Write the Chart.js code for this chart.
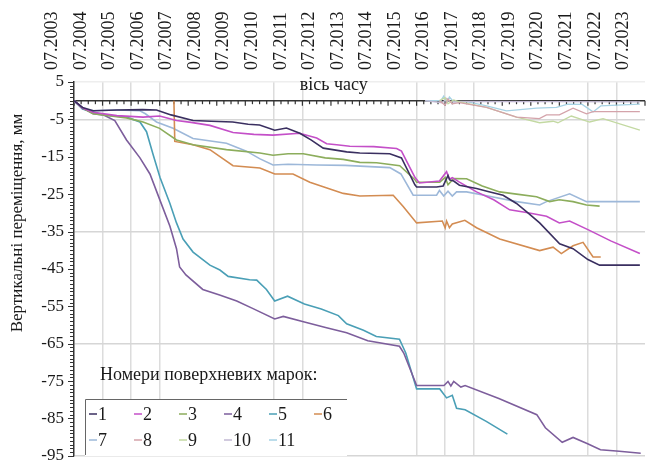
<!DOCTYPE html>
<html>
<head>
<meta charset="utf-8">
<script src="https://cdn.jsdelivr.net/npm/chart.js@4.4.0/dist/chart.umd.min.js"></script>
<style>
  html, body { margin: 0; padding: 0; background: #fff; }
  #wrap { width: 663px; height: 476px; }
</style>
</head>
<body>
<div id="wrap"><canvas id="chart" width="663" height="476"></canvas></div>
<script>
// time in decimal years (07.YYYY = YYYY.5), values in mm
const labels = ['1', '2', '3', '4', '5', '6', '7', '8', '9', '10', '11'];
const colors = ['#3a2f60', '#c44fc8', '#8cad5c', '#7d5e9c', '#4a9fb6', '#d38c52',
                '#9db8d9', '#d4a3aa', '#c3d9a2', '#c2b9d3', '#a6d2e4'];

const t1 = [2003.5, 2003.8, 2004.17, 2005.0, 2005.9, 2006.39, 2006.9, 2007.67, 2008.3, 2009.06, 2009.6, 2010.0, 2010.53, 2010.94, 2011.41, 2011.8, 2012.23, 2013.05, 2013.51, 2014.56, 2014.97, 2015.44, 2015.5, 2016.2, 2016.43, 2016.6, 2016.66, 2016.8, 2017.0, 2017.6, 2018.0, 2018.53, 2019.0, 2019.4, 2019.81, 2020.51, 2020.98, 2021.5, 2021.91, 2023.32];
const v1 = [0, -1.8, -2.7, -2.5, -2.4, -2.5, -3.8, -5.3, -5.5, -5.7, -6.3, -6.5, -7.9, -7.3, -8.7, -10.5, -12.7, -13.7, -14.0, -14.2, -15.3, -22.5, -23.1, -23.1, -22.8, -20.0, -21.2, -21.5, -22.6, -23.5, -24.3, -25.3, -27.5, -30.0, -32.7, -38.3, -39.6, -42.5, -44, -44];

const t2 = [2003.5, 2003.8, 2004.17, 2005.0, 2005.92, 2006.5, 2007.09, 2007.6, 2008.26, 2009.07, 2009.8, 2010.47, 2011.4, 2012.0, 2012.35, 2012.7, 2013.16, 2014.0, 2014.8, 2014.97, 2015.44, 2015.6, 2016.3, 2016.55, 2016.65, 2016.75, 2017.0, 2017.6, 2018.2, 2018.76, 2019.4, 2020.05, 2020.5, 2020.86, 2021.5, 2022.3, 2023.32];
const v2 = [0, -2.0, -3.1, -4.0, -4.4, -4.1, -5.3, -5.8, -6.6, -8.5, -9.0, -9.2, -8.7, -10.0, -11.5, -11.8, -12.2, -12.3, -12.8, -13.5, -20.5, -22.0, -21.5, -19.0, -21.0, -20.6, -21.8, -24.4, -26.5, -29.2, -30.0, -30.9, -32.7, -32.2, -34.5, -37.5, -40.9];

const t3 = [2003.5, 2003.8, 2004.17, 2005.34, 2005.92, 2006.5, 2007.09, 2007.67, 2008.84, 2010.01, 2010.47, 2011.0, 2011.53, 2012.3, 2012.93, 2013.51, 2014.1, 2014.91, 2015.45, 2015.5, 2016.31, 2016.5, 2016.6, 2016.8, 2017.25, 2017.8, 2018.41, 2019.0, 2019.7, 2020.16, 2020.5, 2020.98, 2021.45, 2021.91];
const v3 = [0, -2.0, -3.5, -4.6, -5.7, -7.4, -10.5, -11.8, -13.1, -14.0, -14.6, -14.2, -14.2, -15.3, -15.7, -16.5, -16.6, -17.4, -21.2, -21.8, -21.8, -20.5, -22.5, -20.8, -20.9, -22.8, -24.4, -25.0, -25.7, -27.0, -26.5, -27.0, -27.9, -28.2];

const t4 = [2003.5, 2003.8, 2004.17, 2004.52, 2004.93, 2005.34, 2005.81, 2006.16, 2006.51, 2006.86, 2007.09, 2007.2, 2007.42, 2008.01, 2008.6, 2009.2, 2009.79, 2010.53, 2010.83, 2011.57, 2012.31, 2013.05, 2013.79, 2014.9, 2015.05, 2015.5, 2016.46, 2016.6, 2016.7, 2016.8, 2017.05, 2017.2, 2018.38, 2019.71, 2020.01, 2020.6, 2020.98, 2021.49, 2021.94, 2022.6, 2023.35];
const v4 = [0, -2.0, -3.5, -3.8, -5.3, -10.5, -15.3, -19.6, -26.6, -33.6, -39.6, -44.5, -46.6, -50.5, -52.0, -53.6, -55.7, -58.4, -57.7, -59.2, -60.7, -62.1, -64.2, -65.7, -67.5, -76.2, -76.2, -75.1, -76.3, -75.1, -76.6, -76.2, -79.7, -84.0, -87.5, -91.4, -90.1, -91.8, -93.4, -93.8, -94.3];

const t5 = [2003.5, 2003.8, 2004.52, 2005.34, 2005.81, 2006.04, 2006.27, 2006.51, 2006.86, 2007.09, 2007.32, 2007.67, 2008.26, 2008.61, 2008.9, 2009.65, 2009.9, 2010.24, 2010.53, 2010.98, 2011.57, 2012.16, 2012.76, 2013.05, 2013.64, 2014.09, 2014.9, 2015.12, 2015.5, 2016.31, 2016.55, 2016.75, 2016.9, 2017.2, 2017.94, 2018.68];
const v5 = [0, -2.2, -3.8, -4.4, -5.7, -8.3, -14.4, -20.5, -27.5, -32.7, -37.0, -40.5, -44.0, -45.3, -47.0, -47.9, -48.0, -50.5, -53.6, -52.3, -54.4, -55.7, -57.5, -59.7, -61.4, -63.1, -63.8, -67.5, -77.1, -77.1, -79.5, -78.8, -82.3, -82.7, -85.8, -89.2];

const t6 = [2007.0, 2007.03, 2007.67, 2008.26, 2009.07, 2010.01, 2010.53, 2011.17, 2011.76, 2012.93, 2013.51, 2014.68, 2015.03, 2015.5, 2016.4, 2016.5, 2016.55, 2016.65, 2016.75, 2017.19, 2017.6, 2018.41, 2019.81, 2020.28, 2020.57, 2020.98, 2021.33, 2021.68, 2021.95];
const v6 = [0, -10.9, -11.8, -13.1, -17.4, -18.0, -19.6, -19.6, -21.8, -24.8, -25.5, -25.3, -28.3, -32.7, -32.2, -34.0, -32.2, -34.0, -33.0, -32.0, -34.0, -37.0, -40.1, -39.2, -40.9, -38.8, -37.9, -41.8, -41.8];

const t7 = [2003.5, 2003.8, 2004.2, 2005.0, 2005.81, 2006.0, 2006.39, 2006.97, 2007.67, 2008.84, 2009.54, 2010.0, 2010.47, 2011.0, 2012.0, 2013.0, 2014.56, 2014.95, 2015.38, 2016.2, 2016.3, 2016.45, 2016.6, 2016.75, 2016.9, 2017.25, 2018.0, 2019.0, 2019.81, 2020.05, 2020.86, 2021.45, 2023.32];
const v7 = [0, -2.2, -2.7, -2.5, -2.7, -3.5, -5.7, -7.4, -10.1, -11.4, -13.5, -15.5, -17.2, -17.0, -17.2, -17.3, -17.9, -19.6, -25.3, -25.3, -24.0, -25.5, -24.2, -25.5, -24.4, -24.4, -25.5, -27.0, -27.9, -27.0, -24.9, -27.0, -27.0];

const t8 = [2016.3, 2016.5, 2016.6, 2016.75, 2017.0, 2017.95, 2019.0, 2019.8, 2020.05, 2020.5, 2020.98, 2021.45, 2021.68, 2023.32];
const v8 = [0, -1.2, 0.5, -0.8, -0.5, -1.8, -4.4, -4.8, -3.8, -3.8, -2.0, -3.5, -2.9, -2.9];

const t9 = [2016.3, 2016.5, 2016.6, 2016.8, 2017.0, 2017.95, 2019.0, 2019.81, 2020.28, 2020.45, 2020.92, 2021.56, 2022.03, 2023.32];
const v9 = [0, 0.8, -0.8, 0.2, -0.3, -1.8, -4.4, -5.9, -5.5, -5.9, -4.1, -5.7, -4.8, -7.9];

const t10 = [2015.8, 2016.4, 2016.55, 2016.7, 2017.0, 2023.32];
const v10 = [0, -0.6, 0.6, -0.4, -0.2, -0.3];

const t11 = [2015.8, 2016.35, 2016.45, 2016.55, 2016.65, 2016.8, 2017.3, 2017.95, 2018.65, 2019.7, 2020.4, 2020.8, 2021.3, 2021.68, 2021.95, 2023.32];
const v11 = [0, 0, 1.2, -0.5, 1.0, -0.3, -0.3, -1.4, -2.7, -2.0, -1.8, -0.9, -1.0, -3.0, -1.4, -0.9];

const times = [t1, t2, t3, t4, t5, t6, t7, t8, t9, t10, t11];
const values = [v1, v2, v3, v4, v5, v6, v7, v8, v9, v10, v11];

const gridYears = [2004.5, 2005.5, 2006.5, 2010.5, 2011.5, 2015.5, 2016.5, 2017.5, 2021.5, 2022.5];
const gridValues = [-5, -35, -65, -95];

const serif = '"Liberation Serif", "DejaVu Serif", serif';

const datasets = labels.map((label, i) => ({
  label: label,
  data: times[i].map((t, j) => ({ x: t, y: values[i][j] })),
  borderColor: colors[i],
  backgroundColor: colors[i],
  borderWidth: i < 7 ? 1.6 : 1.3,
  pointRadius: 0,
  fill: false,
  tension: 0,
}));

const decorations = {
  id: 'decorations',
  beforeDatasetsDraw(chart) {
    const { ctx, chartArea, scales } = chart;
    const x = scales.x, y = scales.y;
    ctx.save();
    ctx.strokeStyle = '#333';
    // y axis ruler ticks
    ctx.lineWidth = 1;
    for (let v = -95; v <= 5; v++) {
      const py = Math.round(y.getPixelForValue(v)) + 0.5;
      const len = (v - 5) % 10 === 0 ? 6 : 4;
      ctx.beginPath();
      ctx.moveTo(chartArea.left - len, py);
      ctx.lineTo(chartArea.left, py);
      ctx.stroke();
    }
    // zero line with quarterly ticks
    const y0 = y.getPixelForValue(0);
    ctx.lineWidth = 1.5;
    ctx.beginPath();
    ctx.moveTo(chartArea.left, y0);
    ctx.lineTo(chartArea.right, y0);
    ctx.stroke();
    ctx.lineWidth = 1.2;
    for (let q = 0; q <= 80; q++) {
      const px = x.getPixelForValue(2003.5 + q / 4);
      const len = q % 4 === 0 ? 5 : 3.5;
      ctx.beginPath();
      ctx.moveTo(px, y0);
      ctx.lineTo(px, y0 + len);
      ctx.stroke();
    }
    ctx.restore();
  },
  afterDraw(chart) {
    const { ctx, chartArea, scales } = chart;
    ctx.save();
    ctx.fillStyle = '#1a1a1a';
    // axis titles
    ctx.font = '18px ' + serif;
    ctx.textAlign = 'center';
    ctx.textBaseline = 'middle';
    ctx.fillText('вісь часу', scales.x.getPixelForValue(2012.6), chartArea.top + 3);
    ctx.save();
    ctx.translate(18, 223);
    ctx.rotate(-Math.PI / 2);
    ctx.font = '17px ' + serif;
    ctx.fillText('Вертикальні переміщення, мм', 0, 0);
    ctx.restore();

    // legend inside the plot
    const lx = chartArea.left + 11, ly = 399;
    ctx.fillStyle = '#fff';
    ctx.fillRect(lx, ly, 262, 57);
    ctx.strokeStyle = '#666';
    ctx.lineWidth = 1;
    ctx.beginPath();
    ctx.moveTo(lx + 0.5, ly + 56);
    ctx.lineTo(lx + 0.5, ly + 0.5);
    ctx.lineTo(lx + 262, ly + 0.5);
    ctx.stroke();
    ctx.fillStyle = '#1a1a1a';
    ctx.font = '18px ' + serif;
    ctx.textAlign = 'left';
    ctx.fillText('Номери поверхневих марок:', chartArea.left + 26, 375);
    chart.data.datasets.forEach((ds, i) => {
      const row = i < 6 ? 0 : 1;
      const col = i % 6;
      const ix = lx + 4 + col * 45;
      const iy = ly + 15 + row * 26;
      ctx.strokeStyle = ds.borderColor;
      ctx.lineWidth = 1.5;
      ctx.beginPath();
      ctx.moveTo(ix, iy);
      ctx.lineTo(ix + 8, iy);
      ctx.stroke();
      ctx.fillStyle = '#1a1a1a';
      ctx.fillText(ds.label, ix + 9, iy + 1);
    });
    ctx.restore();
  }
};

new Chart(document.getElementById('chart'), {
  type: 'line',
  data: { datasets },
  options: {
    responsive: false,
    animation: false,
    layout: { padding: { left: 0, right: 18, top: 0, bottom: 10 } },
    plugins: {
      legend: { display: false },
      tooltip: { enabled: false },
    },
    scales: {
      x: {
        type: 'linear',
        position: 'top',
        min: 2003.5,
        max: 2023.5,
        afterFit: s => { s.height = 82; },
        border: { display: false },
        grid: {
          drawTicks: false,
          lineWidth: 1.5,
          color: c => gridYears.includes(c.tick.value) ? '#dcdcdc' : 'rgba(0,0,0,0)',
        },
        ticks: {
          stepSize: 1,
          autoSkip: false,
          minRotation: 90,
          maxRotation: 90,
          padding: 12,
          color: '#1a1a1a',
          font: { family: serif, size: 18 },
          callback: v => '07.' + Math.floor(v),
        },
      },
      y: {
        min: -95,
        max: 5,
        afterFit: s => { s.width = 74; },
        border: { display: true, color: '#333', width: 1.5 },
        grid: {
          drawTicks: false,
          lineWidth: 1.5,
          color: c => gridValues.includes(c.tick.value) ? '#d6d6d6' : (c.tick.value === 5 ? '#eeeeee' : 'rgba(0,0,0,0)'),
        },
        ticks: {
          stepSize: 10,
          padding: 10,
          color: '#1a1a1a',
          font: { family: serif, size: 17 },
        },
      },
    },
  },
  plugins: [decorations],
});
</script>
</body>
</html>
